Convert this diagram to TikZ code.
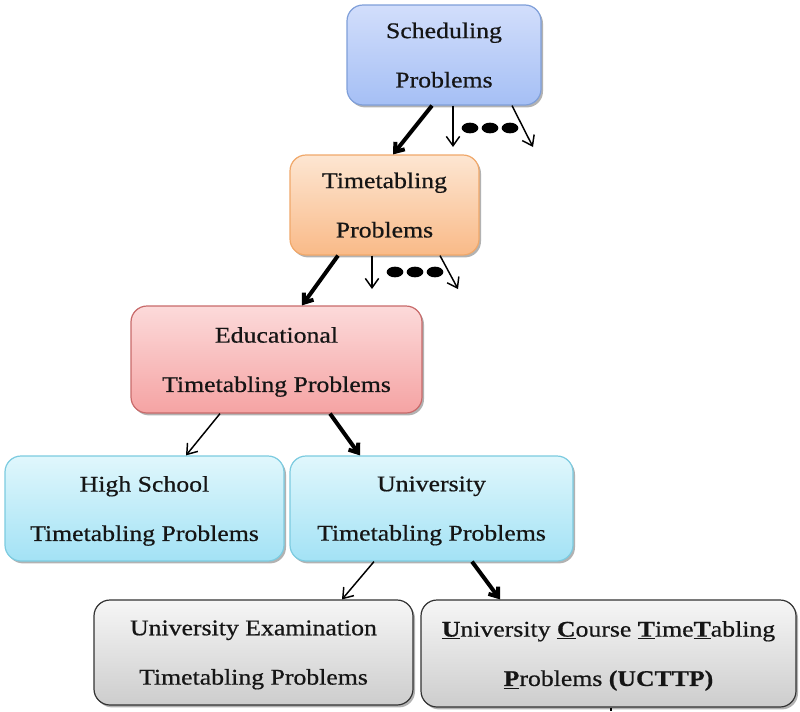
\documentclass[tikz,border=0pt]{standalone}
\usepackage{fontspec}
\setmainfont{Liberation Serif}[FakeStretch=1.15, FakeBold=0.6]
\usetikzlibrary{arrows.meta,shadows,calc,shapes.geometric}
\definecolor{txt}{HTML}{151515}
\definecolor{blueT}{HTML}{D2DEFB}\definecolor{blueB}{HTML}{A5BFF5}\definecolor{blueD}{HTML}{7F9FD9}
\definecolor{oraT}{HTML}{FDE6D2}\definecolor{oraB}{HTML}{F9BA88}\definecolor{oraD}{HTML}{F0A86A}
\definecolor{redT}{HTML}{FCDADA}\definecolor{redB}{HTML}{F5A3A3}\definecolor{redD}{HTML}{C86A6A}
\definecolor{cyaT}{HTML}{E0F7FC}\definecolor{cyaB}{HTML}{A3E2F5}\definecolor{cyaD}{HTML}{7CCBE0}
\definecolor{graT}{HTML}{F6F6F6}\definecolor{graB}{HTML}{CDCDCD}\definecolor{graD}{HTML}{333333}
\tikzset{
  box/.style={rounded corners=12pt, line width=0.9pt, text=txt, align=center,
    font=\fontsize{16.8}{37}\selectfont, inner sep=0pt, text depth=-2pt,
    drop shadow={shadow xshift=1.5pt, shadow yshift=-1.8pt, opacity=0.3, fill=black}},
  bluebox/.style={box, draw=blueD, top color=blueT, bottom color=blueB},
  orangebox/.style={box, draw=oraD, top color=oraT, bottom color=oraB},
  redbox/.style={box, draw=redD, top color=redT, bottom color=redB},
  cyanbox/.style={box, draw=cyaD, top color=cyaT, bottom color=cyaB},
  graybox/.style={box, draw=graD, top color=graT, bottom color=graB},
  thinarrow/.style={line width=1.1pt, -{Straight Barb[length=7pt,width=10pt,line width=1.1pt]}},
  thickarrow/.style={line width=3pt, -{Straight Barb[length=6pt,width=9pt,line width=3pt]}},
  dotmark/.style={ellipse, fill=black, minimum width=12.5pt, minimum height=8pt, inner sep=0pt},
}
\begin{document}
\begin{tikzpicture}[x=0.75pt,y=-0.75pt]
\useasboundingbox (0,0) rectangle (800,711);
\fill[white] (0,0) rectangle (800,711);

\node[bluebox, minimum width=145.5pt, minimum height=75pt] (S) at (444,55) {Scheduling\\Problems};
\node[orangebox, minimum width=141.75pt, minimum height=75pt] (T) at (384.5,205) {Timetabling\\Problems};
\node[redbox, minimum width=218.25pt, minimum height=80.25pt] (E) at (276.5,359.5) {Educational\\Timetabling Problems};
\node[cyanbox, minimum width=209.25pt, minimum height=78.75pt] (H) at (144.5,508.5) {High School\\Timetabling Problems};
\node[cyanbox, minimum width=212.25pt, minimum height=78.75pt] (U) at (431.5,508.5) {University\\Timetabling Problems};
\node[graybox, minimum width=239.25pt, minimum height=78.75pt] (X) at (253.5,652.5) {University Examination\\Timetabling Problems};
\node[graybox, minimum width=281.25pt, minimum height=80.25pt] (C) at (608.5,653.5)
  {\underline{\textbf{U}}niversity \underline{\textbf{C}}ourse \underline{\textbf{T}}ime\underline{\textbf{T}}abling\\\underline{\textbf{P}}roblems \textbf{(UCTTP)}};

% free ends
\coordinate (s1) at (453,147);
\coordinate (s2) at (533,147);
\coordinate (t1) at (372,289);
\coordinate (t2) at (458,289);
\coordinate (cb) at (611,711);

% dots
\node[dotmark] (d1) at (470,128) {};
\node[dotmark] (d2) at (490,128) {};
\node[dotmark] (d3) at (510,128) {};
\node[dotmark] (d4) at (395,272) {};
\node[dotmark] (d5) at (415,272) {};
\node[dotmark] (d6) at (435,272) {};

% connectors
\draw[thickarrow] ($(S.south)+(-12,0)$) -- ($(T.north)+(8.5,0)$);
\draw[thinarrow] ($(S.south)+(9,0)$) -- (s1);
\draw[thinarrow] ($(S.south)+(68,0)$) -- (s2);
\draw[thickarrow] ($(T.south)+(-46.5,0)$) -- ($(E.north)+(25.5,0)$);
\draw[thinarrow] ($(T.south)+(-12.5,0)$) -- (t1);
\draw[thinarrow] ($(T.south)+(55.5,0)$) -- (t2);
\draw[thinarrow] ($(E.south)+(-56.5,0)$) -- ($(H.north)+(41.5,0)$);
\draw[thickarrow] ($(E.south)+(53.5,0)$) -- ($(U.north)+(-71.5,0)$);
\draw[thinarrow] ($(U.south)+(-57.5,0)$) -- ($(X.north)+(88.5,0)$);
\draw[thickarrow] ($(U.south)+(40.5,0)$) -- ($(C.north)+(-108.5,0)$);
\draw[line width=1.5pt] ($(C.south)+(2.5,0)$) -- (cb);
\end{tikzpicture}
\end{document}
